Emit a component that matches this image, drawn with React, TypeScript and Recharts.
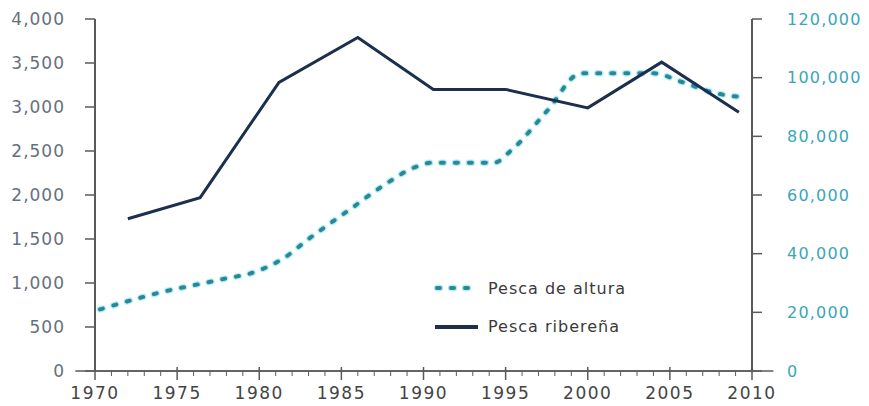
import React from 'react';
import { LineChart, Line, XAxis, YAxis, Legend, ReferenceLine } from 'recharts';

// Pesca ribereña (left axis, tonnes)
const riberenaYears = [1972, 1976.4, 1981.2, 1986, 1990.6, 1995, 2000, 2004.5, 2009.2];
const riberenaValues = [1730, 1970, 3280, 3790, 3200, 3200, 2990, 3510, 2940];

// Pesca de altura (right axis)
const alturaYears = [1970.3, 1974, 1977.5, 1980, 1981.5, 1983, 1985.5, 1987.5, 1989.5, 1990.5, 1994.3, 1995.3, 1997.5, 1999.6, 2004, 2005.7, 2007.8, 2009.3];
const alturaValues = [21000, 26800, 31000, 34300, 38500, 45000, 55000, 63000, 69500, 71000, 71000, 75000, 88500, 101500, 101500, 98600, 94700, 93400];

const yearTicks = Array.from({ length: 41 }, (_, i) => 1970 + i);
const leftTicks = [0, 500, 1000, 1500, 2000, 2500, 3000, 3500, 4000];
const rightTicks = [0, 20000, 40000, 60000, 80000, 100000, 120000];

const riberenaData = riberenaYears.map((year, i) => ({ year, value: riberenaValues[i] }));
const alturaData = alturaYears.map((year, i) => ({ year, value: alturaValues[i] }));

const FONT = 'DejaVu Sans';
const AXIS = '#5a5a5a';
const NAVY = '#1c2f4d';
const TEAL = '#2a8797';
const HALO = '#b4eef3';
const DASH = '3 11';

const XTick = ({ x, y, payload }: any) => {
  const major = payload.value % 5 === 0;
  return (
    <g>
      {major ? (
        <line x1={x} x2={x} y1={y - 4} y2={y + 9} stroke={AXIS} strokeWidth={1.5} />
      ) : (
        <line x1={x} x2={x} y1={y} y2={y + 5} stroke={AXIS} strokeWidth={1} />
      )}
      {major && (
        <text x={x} y={y + 16} dy="0.71em" textAnchor="middle" fill="#444" fontSize={17} fontFamily={FONT} letterSpacing={1.5}>
          {payload.value}
        </text>
      )}
    </g>
  );
};

const LegendBox = () => (
  <svg width={240} height={70}>
    <line x1={7} x2={45} y1={13} y2={13} stroke={HALO} strokeWidth={6.5} strokeDasharray={DASH} strokeLinecap="round" />
    <line x1={7} x2={45} y1={13} y2={13} stroke={TEAL} strokeWidth={4} strokeDasharray={DASH} strokeLinecap="round" />
    <text x={58} y={13} dy="0.35em" fontSize={16} fontFamily={FONT} fill="#3a3a3a" letterSpacing={1}>Pesca de altura</text>
    <line x1={5} x2={48} y1={52} y2={52} stroke={NAVY} strokeWidth={4} />
    <text x={58} y={51} dy="0.35em" fontSize={16} fontFamily={FONT} fill="#3a3a3a" letterSpacing={1}>Pesca ribereña</text>
  </svg>
);

export default function App() {
  return (
    <div style={{ position: 'absolute', left: 0, top: 0, background: '#fff' }}>
      <LineChart width={869} height={406} margin={{ top: 19, right: 0, bottom: 0, left: 0 }}>
        <XAxis
          dataKey="year"
          type="number"
          domain={[1970, 2010]}
          ticks={yearTicks}
          interval={0}
          height={35}
          tickSize={0}
          tickMargin={0}
          tickLine={false}
          tick={<XTick />}
          axisLine={{ stroke: AXIS, strokeWidth: 1.5 }}
        />
        <YAxis
          yAxisId="left"
          domain={[0, 4000]}
          ticks={leftTicks}
          width={95}
          tickSize={10}
          tickMargin={20}
          tickFormatter={(v: number) => v.toLocaleString('en-US')}
          tick={{ fill: '#66707c', fontSize: 17, fontFamily: FONT, letterSpacing: 1 }}
          axisLine={{ stroke: AXIS, strokeWidth: 2 }}
          tickLine={{ stroke: AXIS, strokeWidth: 1.5 }}
        />
        <YAxis
          yAxisId="right"
          orientation="right"
          domain={[0, 120000]}
          ticks={rightTicks}
          width={117}
          tickSize={10}
          tickMargin={25}
          tickFormatter={(v: number) => v.toLocaleString('en-US')}
          tick={{ fill: '#3aa6b7', fontSize: 16, fontFamily: FONT, letterSpacing: 1.2 }}
          axisLine={{ stroke: AXIS, strokeWidth: 2 }}
          tickLine={{ stroke: AXIS, strokeWidth: 1.5 }}
        />
        <ReferenceLine
          yAxisId="left"
          segment={[{ x: 1968.8, y: 0 }, { x: 2011.3, y: 0 }]}
          ifOverflow="visible"
          stroke={AXIS}
          strokeWidth={1.5}
        />
        <Line
          yAxisId="right"
          data={alturaData}
          dataKey="value"
          type="monotone"
          stroke={HALO}
          strokeWidth={6.5}
          strokeDasharray={DASH}
          strokeLinecap="round"
          dot={false}
          legendType="none"
          isAnimationActive={false}
        />
        <Line
          yAxisId="right"
          data={alturaData}
          dataKey="value"
          name="Pesca de altura"
          type="monotone"
          stroke={TEAL}
          strokeWidth={4}
          strokeDasharray={DASH}
          strokeLinecap="round"
          dot={false}
          isAnimationActive={false}
        />
        <Line
          yAxisId="left"
          data={riberenaData}
          dataKey="value"
          name="Pesca ribereña"
          type="linear"
          stroke={NAVY}
          strokeWidth={3}
          dot={false}
          isAnimationActive={false}
        />
        <Legend
          layout="horizontal"
          verticalAlign="middle"
          align="center"
          content={<LegendBox />}
          wrapperStyle={{ left: 430, top: 275, width: 240, height: 70 }}
        />
      </LineChart>
    </div>
  );
}
